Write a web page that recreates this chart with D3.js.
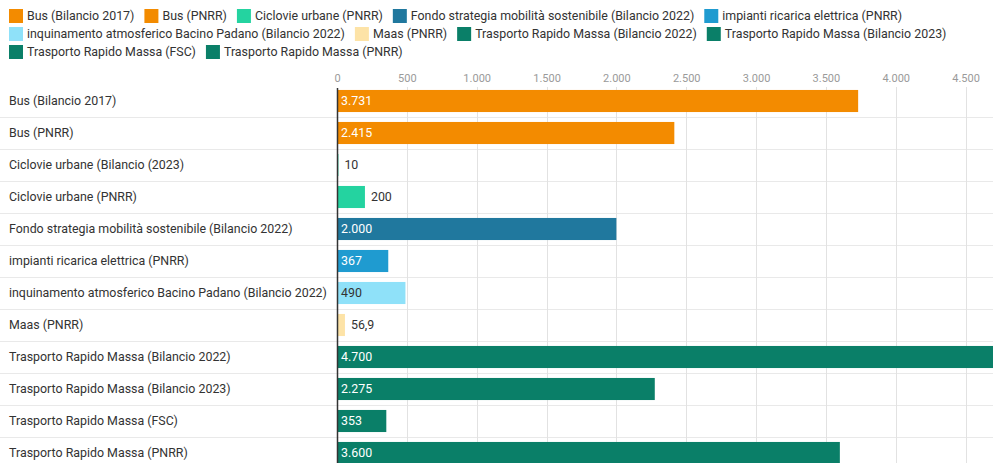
<!DOCTYPE html>
<html>
<head>
<meta charset="utf-8">
<script src="https://cdn.jsdelivr.net/npm/d3@7"></script>
<style>
  html, body { margin: 0; padding: 0; background: #fff; }
  svg { display: block; font-family: Roboto, "Noto Sans", sans-serif; }
</style>
</head>
<body>
<svg id="chart" width="993" height="463"></svg>
<script>
// Funding lines (milioni di euro)
const categories = [
  "Bus (Bilancio 2017)",
  "Bus (PNRR)",
  "Ciclovie urbane (Bilancio (2023)",
  "Ciclovie urbane (PNRR)",
  "Fondo strategia mobilità sostenibile (Bilancio 2022)",
  "impianti ricarica elettrica (PNRR)",
  "inquinamento atmosferico Bacino Padano (Bilancio 2022)",
  "Maas (PNRR)",
  "Trasporto Rapido Massa (Bilancio 2022)",
  "Trasporto Rapido Massa (Bilancio 2023)",
  "Trasporto Rapido Massa (FSC)",
  "Trasporto Rapido Massa (PNRR)"
];
const values = [3731, 2415, 10, 200, 2000, 367, 490, 56.9, 4700, 2275, 353, 3600];
const barColors = [
  "#f38b00", "#f38b00", "#24d3a0", "#24d3a0", "#20789e", "#1f9bd0",
  "#8fe1f9", "#fde3a7", "#0a7f68", "#0a7f68", "#0a7f68", "#0a7f68"
];
const legendLabels = [
  "Bus (Bilancio 2017)", "Bus (PNRR)", "Ciclovie urbane (PNRR)",
  "Fondo strategia mobilità sostenibile (Bilancio 2022)",
  "impianti ricarica elettrica (PNRR)",
  "inquinamento atmosferico Bacino Padano (Bilancio 2022)", "Maas (PNRR)",
  "Trasporto Rapido Massa (Bilancio 2022)", "Trasporto Rapido Massa (Bilancio 2023)",
  "Trasporto Rapido Massa (FSC)", "Trasporto Rapido Massa (PNRR)"
];
const legendColors = [
  "#f38b00", "#f38b00", "#24d3a0", "#20789e", "#1f9bd0",
  "#8fe1f9", "#fde3a7", "#0a7f68", "#0a7f68", "#0a7f68", "#0a7f68"
];
const xTicks = [0, 500, 1000, 1500, 2000, 2500, 3000, 3500, 4000, 4500];
const xMax = 4700;

const W = 993, H = 463;
const FS = 12.4;
const svg = d3.select("#chart");
const it = d3.formatLocale({ decimal: ",", thousands: ".", grouping: [3], currency: ["€", ""] });
const fmt = v => Number.isInteger(v) ? it.format(",d")(v) : it.format(",.1f")(v);

const x0 = 337;
const x = d3.scaleLinear().domain([0, xMax]).range([x0, 993.5]);
const rowTop = 85, rowH = 32;
const y = d3.scaleBand().domain(categories)
  .range([rowTop, rowTop + rowH * categories.length])
  .paddingInner(0.31).paddingOuter(0.155);

// Legend: flowing rows of swatch + label
const legend = svg.append("g").attr("font-size", FS).attr("fill", "#333");
let lx = 9, ly = 16;
legendLabels.forEach((lab, i) => {
  const g = legend.append("g");
  g.append("rect").attr("width", 14).attr("height", 14).attr("fill", legendColors[i]);
  const t = g.append("text").attr("x", 18).attr("y", 7).attr("dy", "0.35em").text(lab);
  const w = 18 + t.node().getComputedTextLength();
  if (lx + w > W - 10 && lx > 9) { lx = 9; ly += 18; }
  g.attr("transform", `translate(${lx},${ly - 7})`);
  lx += w + 10;
});

// Row separators
const seps = categories.slice(1).map((c, i) => rowTop + rowH * (i + 1));
svg.append("g").selectAll("line").data(seps).join("line")
  .attr("x1", 0).attr("x2", W).attr("y1", d => d + 0.5).attr("y2", d => d + 0.5)
  .attr("stroke", "#e9e9e9");

// Vertical gridlines and tick labels
const axis = d3.axisTop(x).tickValues(xTicks).tickFormat(d => it.format(",d")(d)).tickSize(0);
const ax = svg.append("g").attr("transform", `translate(0,${rowTop - 7})`).call(axis);
ax.select(".domain").remove();
ax.selectAll("text").attr("fill", "#9a9a9a").attr("font-size", 11)
  .attr("font-family", "Roboto, sans-serif").attr("dy", "0.35em").attr("y", 0);
svg.append("g").selectAll("line").data(xTicks.slice(1)).join("line")
  .attr("x1", d => Math.round(x(d)) + 0.5).attr("x2", d => Math.round(x(d)) + 0.5)
  .attr("y1", rowTop + 2).attr("y2", H)
  .attr("stroke", "#e2e2e2");

// Category labels
svg.append("g").selectAll("text").data(categories).join("text")
  .attr("x", 9).attr("y", d => y(d) + y.bandwidth() / 2).attr("dy", "0.35em")
  .attr("font-size", FS).attr("fill", "#333").text(d => d);

// Bars
const rows = categories.map((c, i) => ({ c, v: values[i], col: barColors[i] }));
svg.append("g").selectAll("rect").data(rows).join("rect")
  .attr("x", x(0)).attr("y", d => y(d.c))
  .attr("width", d => x(d.v) - x(0)).attr("height", y.bandwidth())
  .attr("fill", d => d.col);

// Value labels: inside the bar when they fit, otherwise just past its end
const vl = svg.append("g").attr("font-size", FS);
rows.forEach(d => {
  const t = vl.append("text").attr("y", y(d.c) + y.bandwidth() / 2).attr("dy", "0.35em").text(fmt(d.v));
  const tw = t.node().getComputedTextLength();
  const bw = x(d.v) - x(0);
  if (tw + 10 < bw) {
    const light = d3.hsl(d.col).l > 0.7;
    t.attr("x", x(0) + 4).attr("fill", light ? "#333" : "#fff");
  } else {
    t.attr("x", x(d.v) + 6).attr("fill", "#333");
  }
});

// Zero baseline
svg.append("line")
  .attr("x1", x0 + 0.5).attr("x2", x0 + 0.5).attr("y1", rowTop + 3).attr("y2", H)
  .attr("stroke", "#333").attr("stroke-width", 1.5);
</script>
</body>
</html>
